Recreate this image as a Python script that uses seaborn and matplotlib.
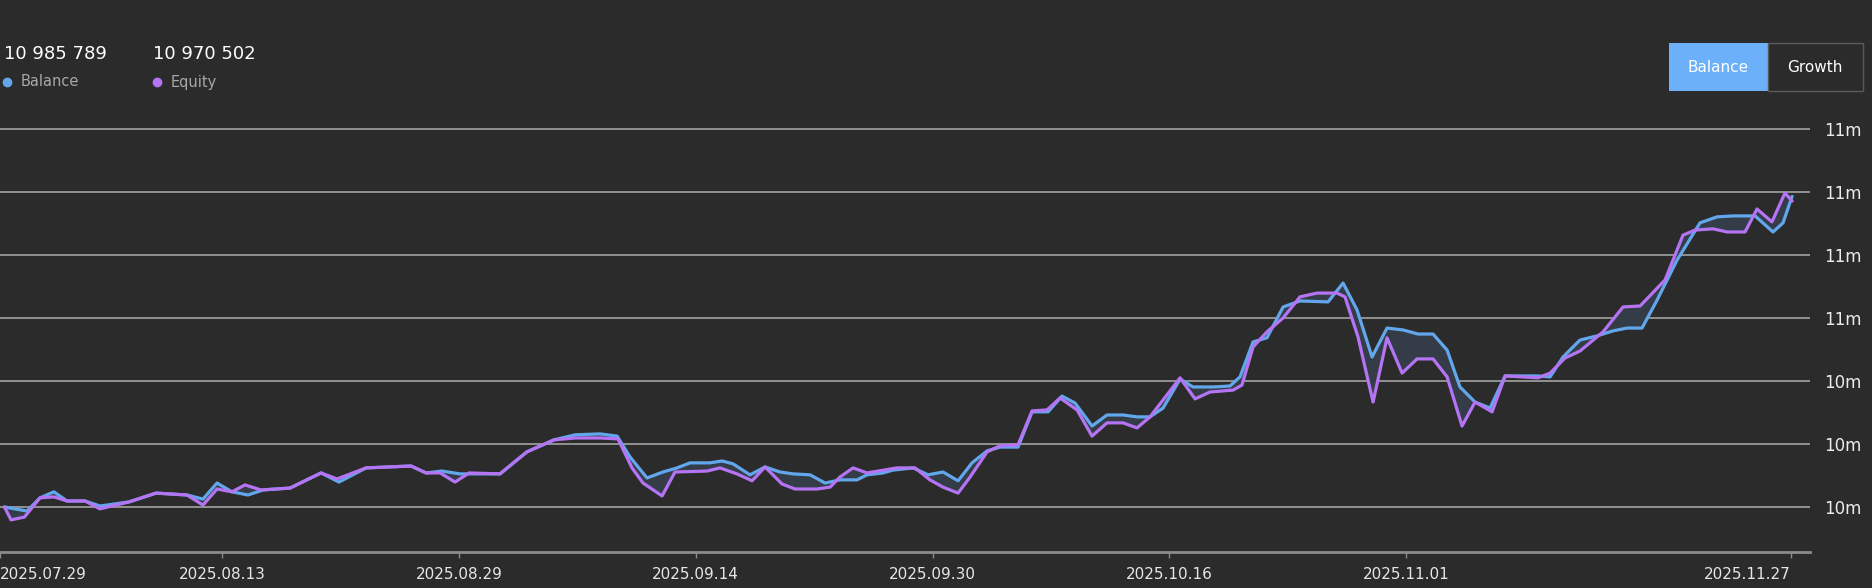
import matplotlib
matplotlib.use("Agg")
import matplotlib.pyplot as plt
from matplotlib.lines import Line2D
from matplotlib.patches import Rectangle
import seaborn as sns
import numpy as np
import pandas as pd

# ---------------- data ----------------
start_time = "2025-07-29 07:00"   # time of the first point
tick_dates = ["2025-07-29", "2025-08-13", "2025-08-29", "2025-09-14",
              "2025-09-30", "2025-10-16", "2025-11-01", "2025-11-27"]
grid_values = [10.0, 10.2, 10.4, 10.6, 10.8, 11.0, 11.2]

# days after start, value in millions
balance_days = [0.0, 1.52, 2.40, 3.34, 4.22, 5.44, 6.45, 8.41, 10.24, 12.33,
                13.41, 14.36, 15.37, 16.45, 17.47, 19.29, 21.39, 22.60, 24.43, 27.47,
                28.48, 29.56, 30.78, 33.48, 35.30, 37.13, 38.55, 40.24, 41.39, 42.26,
                43.41, 44.49, 45.44, 46.32, 47.67, 48.48, 49.22, 50.37, 51.39, 52.40,
                53.28, 54.43, 55.44, 56.45, 57.60, 58.28, 59.36, 60.03, 61.39, 62.40,
                63.41, 64.43, 65.37, 66.39, 67.26, 68.48, 69.43, 70.51, 71.45, 72.33,
                73.48, 74.49, 75.57, 76.52, 77.40, 78.28, 79.43, 80.30, 81.66, 82.80,
                83.48, 84.36, 85.30, 86.39, 87.53, 89.43, 90.44, 91.39, 92.40, 93.41,
                94.49, 95.51, 96.52, 97.47, 98.34, 99.36, 100.37, 101.39, 103.55, 104.43,
                105.30, 106.45, 107.60, 108.68, 109.63, 110.64, 111.66, 113.01, 114.56, 115.71,
                116.79, 118.28, 119.49, 120.17, 120.78]
balance_m = [10.000, 9.987, 10.029, 10.048, 10.019, 10.019, 10.003, 10.016, 10.044, 10.038,
             10.025, 10.076, 10.048, 10.038, 10.054, 10.060, 10.108, 10.079, 10.124, 10.130,
             10.108, 10.114, 10.105, 10.105, 10.175, 10.213, 10.229, 10.232, 10.225, 10.159,
             10.092, 10.111, 10.124, 10.140, 10.140, 10.146, 10.137, 10.102, 10.127, 10.111,
             10.105, 10.102, 10.076, 10.086, 10.086, 10.102, 10.108, 10.117, 10.124, 10.102,
             10.111, 10.083, 10.140, 10.178, 10.190, 10.190, 10.302, 10.302, 10.352, 10.330,
             10.257, 10.292, 10.292, 10.286, 10.286, 10.314, 10.406, 10.381, 10.381, 10.384,
             10.413, 10.524, 10.537, 10.635, 10.654, 10.651, 10.711, 10.625, 10.476, 10.568,
             10.562, 10.549, 10.549, 10.498, 10.381, 10.333, 10.314, 10.416, 10.416, 10.413,
             10.476, 10.530, 10.543, 10.559, 10.568, 10.568, 10.657, 10.784, 10.902, 10.921,
             10.924, 10.924, 10.873, 10.902, 10.986]

equity_days = [0.0, 0.44, 1.35, 2.40, 3.34, 4.22, 5.44, 6.45, 8.41, 10.24,
               12.33, 13.41, 14.36, 15.37, 16.25, 17.33, 19.29, 21.39, 22.47, 24.43,
               27.47, 28.48, 29.43, 30.44, 31.39, 33.48, 35.30, 37.13, 38.55, 40.24,
               41.45, 42.40, 43.14, 44.43, 45.30, 47.47, 48.34, 49.49, 50.51, 51.39,
               52.53, 53.41, 54.90, 55.78, 56.45, 57.33, 58.28, 60.30, 61.52, 62.53,
               63.41, 64.43, 65.24, 66.39, 67.26, 68.48, 69.43, 70.44, 71.32, 72.47,
               73.48, 74.49, 75.57, 76.52, 77.40, 79.43, 80.44, 81.45, 83.01, 83.61,
               84.36, 85.30, 86.39, 87.53, 88.68, 90.03, 90.57, 91.45, 92.47, 93.41,
               94.43, 95.44, 96.52, 97.47, 98.48, 99.36, 100.51, 101.39, 103.61, 104.43,
               105.44, 106.45, 108.01, 109.36, 110.51, 112.20, 113.41, 114.22, 115.44, 116.39,
               117.60, 118.41, 119.42, 120.30, 120.78]
equity_m = [10.000, 9.959, 9.968, 10.029, 10.032, 10.019, 10.019, 9.994, 10.016, 10.044,
            10.038, 10.006, 10.057, 10.048, 10.070, 10.054, 10.060, 10.108, 10.089, 10.124,
            10.130, 10.108, 10.108, 10.079, 10.108, 10.105, 10.175, 10.213, 10.219, 10.219,
            10.216, 10.124, 10.076, 10.035, 10.111, 10.114, 10.124, 10.105, 10.083, 10.127,
            10.073, 10.057, 10.057, 10.063, 10.095, 10.124, 10.108, 10.124, 10.124, 10.086,
            10.063, 10.044, 10.095, 10.175, 10.194, 10.197, 10.305, 10.308, 10.346, 10.308,
            10.225, 10.267, 10.267, 10.251, 10.286, 10.410, 10.343, 10.365, 10.371, 10.387,
            10.508, 10.556, 10.600, 10.667, 10.679, 10.679, 10.667, 10.540, 10.333, 10.537,
            10.425, 10.470, 10.470, 10.413, 10.257, 10.333, 10.302, 10.416, 10.410, 10.425,
            10.473, 10.495, 10.556, 10.635, 10.638, 10.721, 10.863, 10.879, 10.883, 10.873,
            10.873, 10.946, 10.905, 10.997, 10.971]

last_balance = "10 985 789"
last_equity = "10 970 502"

# ---------------- style ----------------
bg = "#2b2b2b"
blue = "#62a7ec"
purple = "#b574f4"
W, H = 1872, 588

sns.set_theme(style="dark", rc={"axes.facecolor": bg, "figure.facecolor": bg})
plt.rcParams["font.family"] = ["DejaVu Sans"]

fig = plt.figure(figsize=(W / 100, H / 100), dpi=100)
ax = fig.add_axes([0, (H - 552) / H, 1810 / W, (552 - 100) / H])
ax.set_facecolor(bg)

df_b = pd.DataFrame({"day": balance_days, "value": balance_m})
df_e = pd.DataFrame({"day": equity_days, "value": equity_m})

# shaded gap between the two curves
poly_x = np.concatenate([df_b["day"].values, df_e["day"].values[::-1]])
poly_y = np.concatenate([df_b["value"].values, df_e["value"].values[::-1]])
ax.fill(poly_x, poly_y, color="#343c48", lw=0, zorder=1)

sns.lineplot(data=df_b, x="day", y="value", ax=ax, color=blue, lw=2.3,
             estimator=None, sort=False, zorder=3, solid_joinstyle="round")
sns.lineplot(data=df_e, x="day", y="value", ax=ax, color=purple, lw=2.3,
             estimator=None, sort=False, zorder=4, solid_joinstyle="round")

ax.set_xlim(-0.304, 121.99)
ax.set_ylim(9.857, 11.292)
ax.set_xlabel("")
ax.set_ylabel("")

# y axis on the right
ax.set_yticks(grid_values)
ax.set_yticklabels([f"{v:.0f}m" for v in grid_values])
ax.yaxis.tick_right()
ax.tick_params(axis="y", length=0, pad=10, labelsize=12, labelcolor="#ececec")
ax.yaxis.grid(True, color="#a3a3a3", lw=1.2)
ax.xaxis.grid(False)

# x axis with dates
t0 = pd.Timestamp(start_time)
tick_ts = pd.to_datetime(tick_dates)
tick_days = [(t - t0) / pd.Timedelta(days=1) for t in tick_ts]
ax.set_xticks(tick_days)
ax.set_xticklabels([t.strftime("%Y.%m.%d") for t in tick_ts])
ax.tick_params(axis="x", length=4, width=1, color="#8c8c8c", pad=7,
               labelsize=11, labelcolor="#e6e6e6", bottom=True)
xl = ax.get_xticklabels()
xl[0].set_ha("left")
xl[-1].set_ha("right")

for s in ["left", "right", "top"]:
    ax.spines[s].set_visible(False)
ax.spines["bottom"].set_color("#8c8c8c")
ax.spines["bottom"].set_linewidth(2)


def fx(x):
    return x / W


def fy(y):
    return 1 - y / H


# header values
fig.text(fx(4), fy(54), last_balance, fontsize=13, color="white", va="center", ha="left")
fig.text(fx(153), fy(54), last_equity, fontsize=13, color="white", va="center", ha="left")
fig.add_artist(Line2D([fx(7)], [fy(82)], marker="o", ms=6, color=blue, transform=fig.transFigure))
fig.add_artist(Line2D([fx(157)], [fy(82)], marker="o", ms=6, color=purple, transform=fig.transFigure))
fig.text(fx(21), fy(82), "Balance", fontsize=10.5, color="#a8a8a8", va="center", ha="left")
fig.text(fx(171), fy(82), "Equity", fontsize=10.5, color="#a8a8a8", va="center", ha="left")

# buttons
fig.add_artist(Rectangle((fx(1669), fy(91)), 99 / W, 48 / H, transform=fig.transFigure,
                         facecolor="#6bb0f9", edgecolor="none"))
fig.add_artist(Rectangle((fx(1768), fy(91)), 95 / W, 48 / H, transform=fig.transFigure,
                         facecolor="none", edgecolor="#5a5a5a", lw=1))
fig.text(fx(1718), fy(67), "Balance", fontsize=11, color="white", va="center", ha="center")
fig.text(fx(1815), fy(67), "Growth", fontsize=11, color="white", va="center", ha="center")

fig.savefig("out.png", dpi=100, facecolor=bg)
